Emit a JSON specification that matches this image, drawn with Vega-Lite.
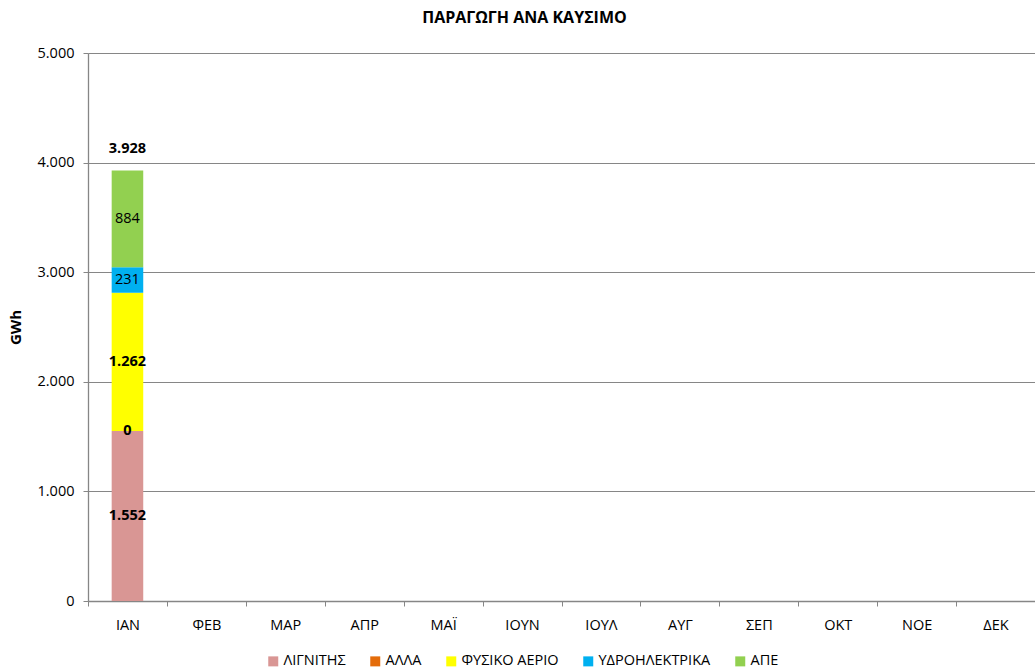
{
  "$schema": "https://vega.github.io/schema/vega-lite/v6.json",
  "autosize": {"type": "none"},
  "padding": {"left": 88, "top": 53, "right": 0, "bottom": 67},
  "width": 947,
  "height": 548,
  "background": "white",
  "config": {
    "locale": {"number": {"decimal": ",", "thousands": ".", "grouping": [3], "currency": ["", " €"]}},
    "font": "Open Sans",
    "view": {"stroke": null}
  },
  "title": {"text": "ΠΑΡΑΓΩΓΗ ΑΝΑ ΚΑΥΣΙΜΟ", "fontSize": 16, "fontWeight": "bold", "font": "Open Sans", "color": "#000", "anchor": "middle", "dx": -37, "offset": 19},
  "data": {"values": [
    {"m": "ΙΑΝ", "s": "ΛΙΓΝΙΤΗΣ", "o": 1, "v": 1551.6},
    {"m": "ΙΑΝ", "s": "ΑΛΛΑ", "o": 2, "v": 0},
    {"m": "ΙΑΝ", "s": "ΦΥΣΙΚΟ ΑΕΡΙΟ", "o": 3, "v": 1261.7},
    {"m": "ΙΑΝ", "s": "ΥΔΡΟΗΛΕΚΤΡΙΚΑ", "o": 4, "v": 230.8},
    {"m": "ΙΑΝ", "s": "ΑΠΕ", "o": 5, "v": 884.2}
  ]},
  "encoding": {
    "x": {"field": "m", "type": "nominal", "sort": null,
      "scale": {"domain": ["ΙΑΝ","ΦΕΒ","ΜΑΡ","ΑΠΡ","ΜΑΪ","ΙΟΥΝ","ΙΟΥΛ","ΑΥΓ","ΣΕΠ","ΟΚΤ","ΝΟΕ","ΔΕΚ"], "paddingInner": 0, "paddingOuter": 0},
      "axis": {"title": null, "labelAngle": 0, "labelFontSize": 14.5, "labelColor": "#000", "labelPadding": 12, "tickBand": "extent", "tickSize": 5, "tickColor": "#868686", "domainColor": "#868686", "domainWidth": 1.3, "grid": false}
    }
  },
  "layer": [
    {
      "mark": {"type": "bar", "width": {"band": 0.4}},
      "encoding": {
        "y": {"field": "v", "type": "quantitative", "stack": "zero",
          "scale": {"domain": [0, 5000], "nice": false},
          "axis": {"title": "GWh", "titleFontSize": 15, "titleFontWeight": "bold", "titleColor": "#000", "titlePadding": 14, "values": [0,1000,2000,3000,4000,5000], "format": ",.0f", "labelFontSize": 14.5, "labelColor": "#000", "labelPadding": 9, "tickSize": 5, "tickColor": "#868686", "domainColor": "#868686", "domainWidth": 1.3, "gridColor": "#868686", "gridWidth": 1}
        },
        "color": {"field": "s", "type": "nominal",
          "scale": {"domain": ["ΛΙΓΝΙΤΗΣ","ΑΛΛΑ","ΦΥΣΙΚΟ ΑΕΡΙΟ","ΥΔΡΟΗΛΕΚΤΡΙΚΑ","ΑΠΕ"], "range": ["#D99694","#E46C0A","#FFFF00","#00B0F0","#92D050"]},
          "legend": {"title": null, "orient": "none", "direction": "horizontal", "legendX": 178, "legendY": 601, "symbolType": "square", "symbolSize": 100, "symbolStrokeWidth": 0, "labelFontSize": 14.5, "labelColor": "#000", "labelOffset": 3, "columnPadding": 22}
        },
        "order": {"field": "o", "type": "quantitative"}
      }
    },
    {
      "transform": [
        {"stack": "v", "groupby": ["m"], "sort": [{"field": "o"}], "as": ["y0", "y1"]},
        {"fold": ["y0", "y1"], "as": ["k", "yy"]},
        {"aggregate": [{"op": "mean", "field": "yy", "as": "mid"}], "groupby": ["m", "s", "o", "v"]},
        {"filter": "datum.o <= 3"}
      ],
      "mark": {"type": "text", "fontSize": 14.5, "fontWeight": "bold", "color": "#000", "baseline": "middle"},
      "encoding": {
        "y": {"field": "mid", "type": "quantitative"},
        "text": {"field": "v", "type": "quantitative", "format": ",.0f"}
      }
    },
    {
      "transform": [
        {"stack": "v", "groupby": ["m"], "sort": [{"field": "o"}], "as": ["y0", "y1"]},
        {"fold": ["y0", "y1"], "as": ["k", "yy"]},
        {"aggregate": [{"op": "mean", "field": "yy", "as": "mid"}], "groupby": ["m", "s", "o", "v"]},
        {"filter": "datum.o > 3"}
      ],
      "mark": {"type": "text", "fontSize": 14.5, "fontWeight": "normal", "color": "#000", "baseline": "middle"},
      "encoding": {
        "y": {"field": "mid", "type": "quantitative"},
        "text": {"field": "v", "type": "quantitative", "format": ",.0f"}
      }
    },
    {
      "transform": [
        {"aggregate": [{"op": "sum", "field": "v", "as": "total"}], "groupby": ["m"]}
      ],
      "mark": {"type": "text", "fontSize": 14.5, "fontWeight": "bold", "color": "#000", "baseline": "middle", "dy": -21},
      "encoding": {
        "y": {"field": "total", "type": "quantitative"},
        "text": {"field": "total", "type": "quantitative", "format": ",.0f"}
      }
    }
  ]
}
